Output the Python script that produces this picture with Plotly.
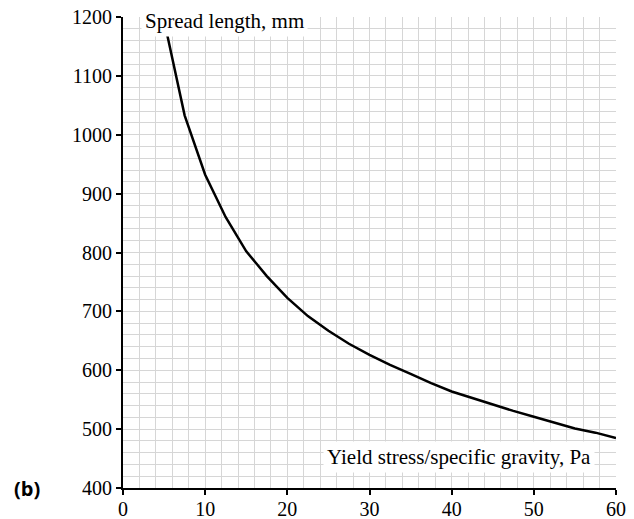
import plotly.graph_objects as go

# Data
yield_stress = [5.3, 7.5, 10, 12.5, 15, 17.5, 20, 22.5, 25, 27.5, 30, 32.5, 35, 37.5,
                40, 42.5, 45, 47.5, 50, 52.5, 55, 57.5, 60]
spread_length = [1175, 1033, 932, 860, 802, 760, 723, 692, 667, 645, 626, 609, 594, 578,
                 564, 553, 541, 531, 521, 511, 501, 494, 485]

x_ticks = [0, 10, 20, 30, 40, 50, 60]
y_ticks = [400, 500, 600, 700, 800, 900, 1000, 1100, 1200]

serif = "Liberation Serif"
grid_c = "#d6d6d6"

fig = go.Figure()
fig.add_trace(go.Scatter(x=yield_stress, y=spread_length, mode="lines",
                         line=dict(color="black", width=2.5), showlegend=False,
                         cliponaxis=True))

fig.update_layout(
    width=634, height=519,
    margin=dict(l=123, r=18, t=17, b=31, autoexpand=False),
    paper_bgcolor="white", plot_bgcolor="white",
    font=dict(family=serif, size=20, color="black"),
    xaxis=dict(range=[0, 60], tickvals=x_ticks, ticks="outside", ticklen=5,
               tickwidth=1.5, tickcolor="black", showline=True, linecolor="black",
               linewidth=2, showgrid=True, gridcolor=grid_c, gridwidth=1,
               minor=dict(dtick=2, showgrid=True, gridcolor=grid_c, gridwidth=1),
               zeroline=False, automargin=False, ticklabeloverflow="allow",
               ticklabelstandoff=-3, tickfont=dict(family=serif, size=20)),
    yaxis=dict(range=[400, 1200], tickvals=y_ticks, ticks="outside", ticklen=5,
               tickwidth=1.5, tickcolor="black", showline=True, linecolor="black",
               linewidth=2, showgrid=True, gridcolor=grid_c, gridwidth=1,
               minor=dict(dtick=20, showgrid=True, gridcolor=grid_c, gridwidth=1),
               zeroline=False, automargin=False, ticklabeloverflow="allow",
               tickfont=dict(family=serif, size=20)),
)

fig.add_annotation(text="Spread length, mm", xref="paper", yref="paper",
                   x=(224 - 123) / 493, y=(488 - 21) / 471, xanchor="center", yanchor="middle",
                   showarrow=False, bgcolor="white", borderpad=3,
                   font=dict(family=serif, size=21, color="black"))
fig.add_annotation(text="Yield stress/specific gravity, Pa", xref="paper", yref="paper",
                   x=(459 - 123) / 493, y=(488 - 457) / 471, xanchor="center", yanchor="middle",
                   showarrow=False, bgcolor="white", borderpad=3,
                   font=dict(family=serif, size=21, color="black"))
fig.add_annotation(text="<b>(b)</b>", xref="paper", yref="paper",
                   x=(12 - 123) / 493, y=(488 - 488) / 471, xanchor="left", yanchor="middle",
                   showarrow=False,
                   font=dict(family="Open Sans", size=20, color="black"))

fig.write_html("out.html", config={"displayModeBar": False},
               post_script="document.body.style.margin='0';")
